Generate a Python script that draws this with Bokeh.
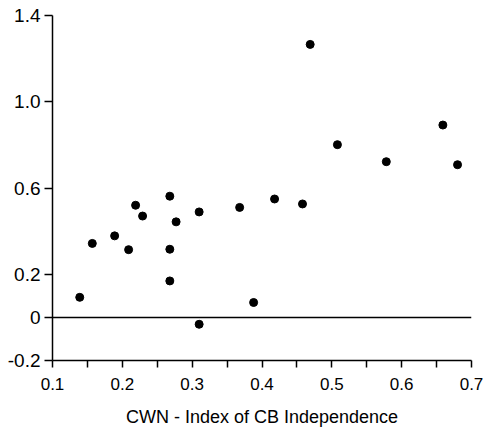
from bokeh.plotting import figure
from bokeh.models import FixedTicker, Range1d, Span
from bokeh.embed import file_html
from bokeh.resources import INLINE

# CWN index of central bank independence vs. outcome
cwn_index = [0.139, 0.157, 0.189, 0.209, 0.219, 0.229, 0.268, 0.268, 0.268,
             0.277, 0.310, 0.310, 0.368, 0.388, 0.418, 0.458, 0.469, 0.508,
             0.578, 0.659, 0.680]
values = [0.093, 0.343, 0.378, 0.314, 0.520, 0.470, 0.562, 0.316, 0.169,
          0.443, 0.489, -0.032, 0.510, 0.069, 0.549, 0.526, 1.266, 0.801,
          0.722, 0.892, 0.708]

x_ticks = [0.1, 0.2, 0.3, 0.4, 0.5, 0.6, 0.7]
x_minor = [0.15, 0.25, 0.35, 0.45, 0.55, 0.65]
x_labels = ["0.1", "0.2", "0.3", "0.4", "0.5", "0.6", "0.7"]
y_ticks = [-0.2, 0.0, 0.2, 0.6, 1.0, 1.4]
y_labels = ["-0.2", "0", "0.2", "0.6", "1.0", "1.4"]
x_title = "CWN - Index of CB Independence"

FONT = "Liberation Sans"

p = figure(width=483, height=429, output_backend="svg", toolbar_location=None,
           x_range=Range1d(0.1, 0.7), y_range=Range1d(-0.2, 1.4),
           min_border_left=52, min_border_right=12, min_border_top=15,
           min_border_bottom=66)
p.outline_line_color = None
p.xgrid.visible = False
p.ygrid.visible = False

p.scatter(cwn_index, values, size=8, color="black")

p.add_layout(Span(location=0, dimension="width", line_color="black", line_width=1.5))

xa = p.xaxis[0]
xa.ticker = FixedTicker(ticks=x_ticks, minor_ticks=x_minor)
xa.major_label_overrides = {t: l for t, l in zip(x_ticks, x_labels)}
xa.major_tick_in = 0
xa.major_tick_out = 7
xa.minor_tick_in = 0
xa.minor_tick_out = 7
xa.axis_line_width = 1.5
xa.major_tick_line_width = 1.5
xa.minor_tick_line_width = 1.5
xa.major_label_text_font = FONT
xa.major_label_text_font_size = "17px"
xa.major_label_text_color = "black"
xa.major_label_standoff = 10
xa.axis_label = x_title
xa.axis_label_text_font = FONT
xa.axis_label_text_font_size = "18px"
xa.axis_label_text_font_style = "normal"
xa.axis_label_text_color = "black"
xa.axis_label_standoff = 14

ya = p.yaxis[0]
ya.ticker = FixedTicker(ticks=y_ticks, minor_ticks=[])
ya.major_label_overrides = {t: l for t, l in zip(y_ticks, y_labels)}
ya.major_tick_in = 0
ya.major_tick_out = 8
ya.minor_tick_in = 0
ya.minor_tick_out = 0
ya.axis_line_width = 1.5
ya.major_tick_line_width = 1.5
ya.major_label_text_font = FONT
ya.major_label_text_font_size = "19px"
ya.major_label_text_color = "black"
ya.major_label_standoff = 4

open("out.html", "w").write(file_html(p, INLINE))
